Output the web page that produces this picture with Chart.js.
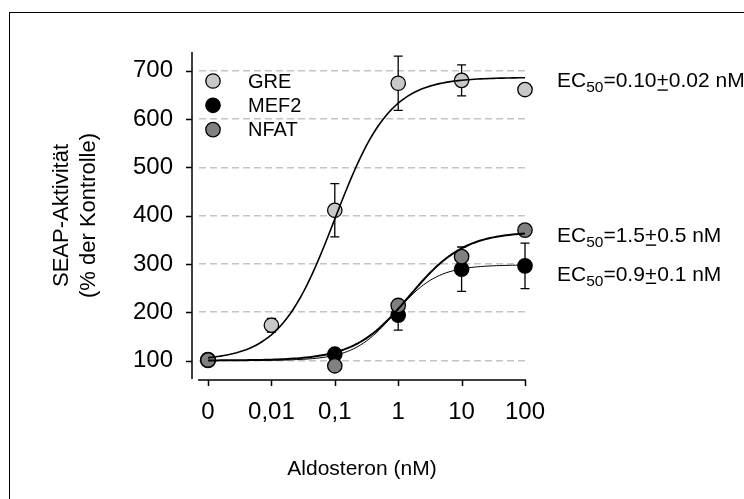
<!DOCTYPE html>
<html>
<head>
<meta charset="utf-8">
<script src="https://cdn.jsdelivr.net/npm/chart.js@4.4.1/dist/chart.umd.min.js"></script>
<style>
	html, body { margin:0; padding:0; background:#fff; }
	#wrap { width:744px; height:499px; }
</style>
</head>
<body>
<div id="wrap"><canvas id="seap" width="744" height="499"></canvas></div>
<script>
	// Aldosteron (nM); "0" steht eine Dekade links von 0,01
	var conc		=	[0, 0.01, 0.1, 1, 10, 100];
	var concLabels	=	['0', '0,01', '0,1', '1', '10', '100'];
	var yTicks		=	[100, 200, 300, 400, 500, 600, 700];

	var seriesNames	=	['GRE', 'MEF2', 'NFAT'];
	var greVals		=	[102, 173, 411, 674, 680, 661];
	var greErr		=	[0, 14, 55, 56, 32, 0];
	var mef2Vals	=	[100, null, 113, 194, 289, 296];
	var mef2Err		=	[0, 0, 0, 31, 46, 47];
	var nfatVals	=	[101, null, 89, 214, 315, 370];
	var nfatErr		=	[0, 0, 0, 0, 0, 0];

	// Hill-Fit: [Basis, Maximum, EC50 in nM, Steigung]
	var greFit		=	[100, 686, 0.10, 1.0];
	var mef2Fit		=	[100, 298, 0.9, 1.3];
	var nfatFit		=	[100, 367, 1.5, 1.0];

	var ecVal		=	['0.10', '1.5', '0.9'];
	var ecSem		=	['0.02', '0.5', '0.1'];

	var fontFam		=	'"Liberation Sans", Arial, sans-serif';
	var colGre		=	'#c8c8c8';
	var colMef2		=	'#000000';
	var colNfat		=	'#808080';

	Chart.defaults.font.family	=	fontFam;
	Chart.defaults.color		=	'#000';

	function xPos(c){
		return c === 0 ? -3 : Math.log10(c);
	}
	function hill(fit, lx){
		return fit[0] + (fit[1] - fit[0]) / (1 + Math.pow(10, fit[3] * (Math.log10(fit[2]) - lx)));
	}
	function curvePts(fit){
		var pts = [];
		for(var i = 0; i <= 100; i++){
			var lx = -3 + i * 0.05;
			pts.push({x: lx, y: hill(fit, lx)});
		}
		return pts;
	}
	function dataPts(vals){
		var pts = [];
		$each(vals, function(v, i){
			if(v !== null) pts.push({x: xPos(conc[i]), y: v});
		});
		return pts;
	}
	function $each(arr, fn){
		for(var i = 0; i < arr.length; i++) fn(arr[i], i);
	}

	function curveSet(fit, w){
		return {
			data: curvePts(fit), showLine: true, borderColor: '#000', borderWidth: w,
			pointRadius: 0, fill: false, order: 0, clip: false
		};
	}
	function pointSet(vals, errs, col, ord){
		return {
			data: dataPts(vals), errs: errs, showLine: false, backgroundColor: col, borderColor: '#000',
			pointRadius: 7.2, pointBorderWidth: 1.3, order: ord, clip: false
		};
	}

	// weisser Hintergrund + Rahmen
	var framePlugin = {
		id: 'frame',
		beforeDraw: function(chart){
			var ctx = chart.ctx;
			ctx.save();
			ctx.fillStyle = '#fff';
			ctx.fillRect(0, 0, chart.width, chart.height);
			ctx.strokeStyle = '#000';
			ctx.lineWidth = 1;
			ctx.strokeRect(9.5, 12.5, 800, 600);
			ctx.restore();
		}
	};

	// abgesetzte Achsen wie in SigmaPlot
	var axesPlugin = {
		id: 'axes',
		afterDraw: function(chart){
			var ctx = chart.ctx, a = chart.chartArea;
			var xs = chart.scales.x, ys = chart.scales.y;
			ctx.save();
			ctx.strokeStyle = '#000';
			ctx.lineWidth = 1.5;
			ctx.beginPath();
			var ax = a.left - 7;
			ctx.moveTo(ax, a.top); ctx.lineTo(ax, a.bottom);
			$each(yTicks, function(v){
				var py = Math.round(ys.getPixelForValue(v)) + 0.5;
				ctx.moveTo(ax - 6, py); ctx.lineTo(ax, py);
			});
			var ay = a.bottom + 1;
			ctx.moveTo(a.left - 1, ay); ctx.lineTo(a.right + 1, ay);
			$each(conc, function(c){
				var px = Math.round(xs.getPixelForValue(xPos(c))) + 0.5;
				ctx.moveTo(px, ay); ctx.lineTo(px, ay + 6);
			});
			ctx.stroke();
			ctx.restore();
		}
	};

	// Fehlerbalken (SEM), unter den Punkten
	var errPlugin = {
		id: 'errbars',
		beforeDatasetsDraw: function(chart){
			var ctx = chart.ctx, xs = chart.scales.x, ys = chart.scales.y;
			ctx.save();
			ctx.strokeStyle = '#000';
			ctx.lineWidth = 1.3;
			ctx.beginPath();
			$each(chart.data.datasets, function(ds){
				if(!ds.errs) return;
				$each(ds.data, function(p){
					var idx = -1;
					$each(conc, function(c, j){ if(Math.abs(xPos(c) - p.x) < 1e-6) idx = j; });
					var e = ds.errs[idx];
					if(!e) return;
					var px = xs.getPixelForValue(p.x);
					var top = ys.getPixelForValue(p.y + e), bot = ys.getPixelForValue(p.y - e);
					ctx.moveTo(px, top); ctx.lineTo(px, bot);
					ctx.moveTo(px - 4.5, top); ctx.lineTo(px + 4.5, top);
					ctx.moveTo(px - 4.5, bot); ctx.lineTo(px + 4.5, bot);
				});
			});
			ctx.stroke();
			ctx.restore();
		}
	};

	// Legende links oben im Diagramm + EC50-Angaben rechts
	var notesPlugin = {
		id: 'notes',
		afterDatasetsDraw: function(chart){
			var ctx = chart.ctx, a = chart.chartArea, ys = chart.scales.y;
			var cols = [colGre, colMef2, colNfat];
			ctx.save();
			ctx.textBaseline = 'middle';
			ctx.textAlign = 'left';
			ctx.font = '20px ' + fontFam;
			$each(seriesNames, function(name, i){
				var cy = a.top + 29 + i * 24.3;
				ctx.beginPath();
				ctx.arc(a.left + 14, cy, 7.2, 0, Math.PI * 2);
				ctx.fillStyle = cols[i];
				ctx.fill();
				ctx.lineWidth = 1.3;
				ctx.strokeStyle = '#000';
				ctx.stroke();
				ctx.fillStyle = '#000';
				ctx.fillText(name, a.left + 49, cy + 1);
			});

			var anchor = [681, 360, 281];
			ctx.textBaseline = 'alphabetic';
			$each(ecVal, function(v, i){
				var x = a.right + 32;
				var y = ys.getPixelForValue(anchor[i]) + 7.5;
				ctx.font = '21px ' + fontFam;
				ctx.fillText('EC', x, y);
				x += ctx.measureText('EC').width;
				ctx.font = '15.5px ' + fontFam;
				ctx.fillText('50', x, y + 5);
				x += ctx.measureText('50').width;
				ctx.font = '21px ' + fontFam;
				var s = '=' + v;
				ctx.fillText(s, x, y);
				x += ctx.measureText(s).width;
				var pw = ctx.measureText('+').width;
				ctx.fillText('+', x, y);
				ctx.fillRect(x + 1, y + 2, pw - 2, 1.4);
				x += pw;
				ctx.fillText(ecSem[i] + ' nM', x, y);
			});
			ctx.restore();
		}
	};

	var cfg = {
		type: 'scatter',
		data: {
			datasets: [
				curveSet(greFit, 1.6),
				curveSet(mef2Fit, 1),
				curveSet(nfatFit, 2),
				pointSet(nfatVals, nfatErr, colNfat, 1),
				pointSet(mef2Vals, mef2Err, colMef2, 2),
				pointSet(greVals, greErr, colGre, 3)
			]
		},
		options: {
			responsive: false,
			animation: false,
			events: [],
			layout: { padding: { left: 49, top: 52, right: 219, bottom: 0 } },
			plugins: { legend: { display: false }, tooltip: { enabled: false } },
			scales: {
				x: {
					type: 'linear', min: -3.142, max: 2,
					grid: { display: false, drawTicks: false },
					border: { display: false },
					afterBuildTicks: function(s){
						s.ticks = conc.map(function(c){ return {value: xPos(c)}; });
					},
					afterFit: function(s){ s.height = 120; },
					ticks: {
						padding: 19, autoSkip: false, maxRotation: 0, color: '#000',
						font: { size: 24, lineHeight: 1.2 },
						callback: function(v){
							var lab = '';
							$each(conc, function(c, j){ if(Math.abs(xPos(c) - v) < 1e-6) lab = concLabels[j]; });
							return lab;
						}
					},
					title: {
						display: true, text: 'Aldosteron (nM)', color: '#000',
						font: { size: 21, lineHeight: 1.2 }, padding: { top: 0, bottom: 17 }
					}
				},
				y: {
					type: 'linear', min: 61.7, max: 738.7,
					grid: { display: true, drawTicks: false, color: '#c4c4c4', lineWidth: 1.4 },
					border: { display: false, dash: [7, 4] },
					afterBuildTicks: function(s){
						s.ticks = yTicks.map(function(v){ return {value: v}; });
					},
					afterFit: function(s){ s.width = 150; },
					ticks: { padding: 26, color: '#000', font: { size: 24, lineHeight: 1.2 } },
					title: {
						display: true, text: ['SEAP-Aktivität', '(% der Kontrolle)'], color: '#000',
						font: { size: 22, lineHeight: 1.2 }, padding: { top: 0, bottom: 0 }
					}
				}
			}
		},
		plugins: [framePlugin, errPlugin, notesPlugin, axesPlugin]
	};

	var seapChart = new Chart(document.getElementById('seap').getContext('2d'), cfg);
</script>
</body>
</html>
